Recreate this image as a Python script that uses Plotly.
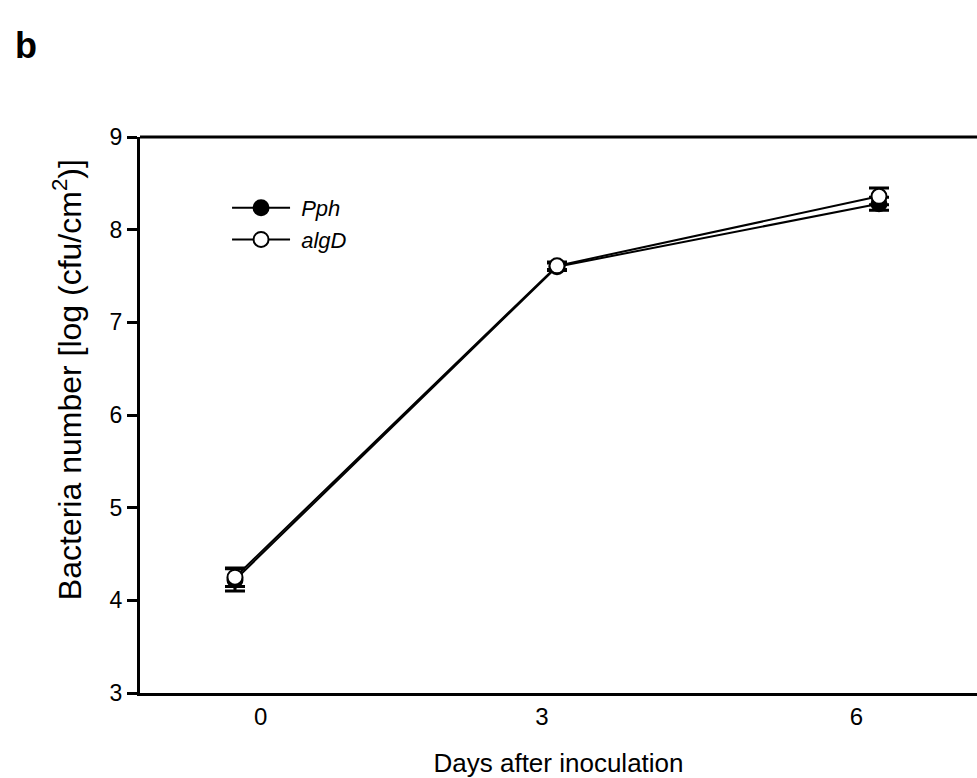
import plotly.graph_objects as go

days = [0, 3, 6]
pph_mean = [4.22, 7.60, 8.28]
pph_err = [0.12, 0.04, 0.07]
algd_mean = [4.25, 7.61, 8.36]
algd_err = [0.10, 0.04, 0.09]
x_tick_labels = ["0", "3", "6"]
x_tick_pos = [0.24, 2.86, 5.79]
y_ticks = [3, 4, 5, 6, 7, 8, 9]

font = "Liberation Sans, Arial, sans-serif"

fig = go.Figure()
fig.add_trace(go.Scatter(
    x=days, y=pph_mean, name=" <i>Pph</i>", mode="lines+markers",
    line=dict(color="black", width=2),
    marker=dict(symbol="circle", size=15, color="black", line=dict(color="black", width=2)),
    error_y=dict(type="data", array=pph_err, color="black", thickness=3, width=10),
))
fig.add_trace(go.Scatter(
    x=days, y=algd_mean, name=" <i>algD</i>", mode="lines+markers",
    line=dict(color="black", width=2),
    marker=dict(symbol="circle", size=15, color="white", line=dict(color="black", width=2)),
    error_y=dict(type="data", array=algd_err, color="black", thickness=3, width=10),
))

fig.add_shape(type="line", xref="paper", yref="paper", x0=0, x1=1, y0=1, y1=1,
              line=dict(color="black", width=3))
fig.add_annotation(text="<b>b</b>", xref="paper", yref="paper", x=-0.152, y=1.205,
                   xanchor="left", yanchor="top", showarrow=False,
                   font=dict(family=font, size=36, color="black"))
fig.add_annotation(text="Bacteria number [log (cfu/cm<sup>2</sup>)]",
                   xref="paper", yref="paper", x=-0.087, y=0.563,
                   xanchor="center", yanchor="middle", textangle=-90,
                   showarrow=False, font=dict(family=font, size=32, color="black"))

fig.update_layout(
    width=977, height=778,
    margin=dict(l=140, r=0, t=137, b=85),
    paper_bgcolor="white", plot_bgcolor="white",
    font=dict(family=font, size=24, color="black"),
    showlegend=True,
    legend=dict(x=0.104, y=0.91, xanchor="left", yanchor="top",
                bgcolor="rgba(0,0,0,0)", font=dict(family=font, size=22),
                tracegroupgap=0, itemwidth=58),
    xaxis=dict(range=[-0.885, 6.913], showgrid=False, zeroline=False,
               showline=True, linecolor="black", linewidth=3,
               tickvals=x_tick_pos, ticktext=x_tick_labels, ticks="",
               tickfont=dict(family=font, size=24, color="black"),
               title=dict(text="Days after inoculation", standoff=26,
                          font=dict(family=font, size=26))),
    yaxis=dict(range=[3, 9], showgrid=False, zeroline=False,
               showline=True, linecolor="black", linewidth=3,
               tickvals=y_ticks, ticks="outside", ticklen=10, tickwidth=3,
               tickcolor="black", tickfont=dict(family=font, size=23, color="black")),
)

fig.write_html("out.html")
